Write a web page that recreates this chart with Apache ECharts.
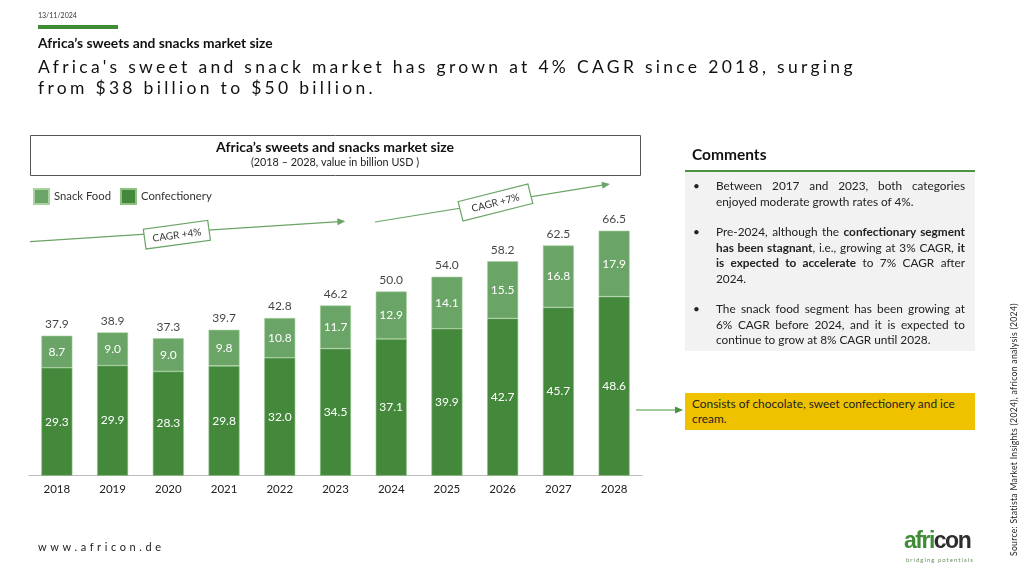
<!DOCTYPE html>
<html>
<head>
<meta charset="utf-8" />
<title>Africa sweets and snacks</title>
<script src="https://cdn.jsdelivr.net/npm/echarts@6/dist/echarts.min.js"></script>
<style>
  body { margin: 0; background: #fff; font-family: Lato, "Open Sans", sans-serif; color: #111; }
  #page { position: relative; width: 1024px; height: 577px; overflow: hidden; }
  #main { position: absolute; left: 0; top: 0; width: 1024px; height: 577px; }
  .abs { position: absolute; }
  #date { left: 38px; top: 11px; font-size: 7px; color: #333; }
  #bar { left: 38px; top: 25px; width: 80px; height: 4px; background: #3f8b36; }
  #kicker { left: 38px; top: 34px; font-size: 13.8px; font-weight: bold; color: #111; }
  #headline { left: 38px; top: 56px; font-size: 17.5px; letter-spacing: 3.3px; line-height: 21px; color: #111; }
  #comTitle { left: 692px; top: 145px; font-size: 15.5px; font-weight: bold; }
  #comBox { left: 685px; top: 170px; width: 290px; height: 181px; background: #f2f2f2; border-top: 2px solid #4a9440; box-sizing: border-box; }
  #comBox ul { margin: 0; padding: 6px 10px 0 31px; list-style: none; font-size: 11.8px; line-height: 15.5px; color: #222; }
  #comBox li { position: relative; text-align: justify; margin-bottom: 15px; }
  #comBox li::before { content: '•'; position: absolute; left: -23px; top: 0; }
  #yellow { left: 685px; top: 393px; width: 290px; height: 37px; background: #efc200; font-size: 11.9px; line-height: 15px; padding: 3px 7px; box-sizing: border-box; color: #222; }
  #web { left: 38px; top: 540px; font-size: 11px; letter-spacing: 3.6px; color: #222; }
  #logo { left: 904px; top: 528px; font-family: "Liberation Sans", Arial, sans-serif; font-weight: bold; font-size: 23px; letter-spacing: -1.5px; line-height: 24px; }
  #logo .g { color: #3f8b36; } #logo .d { color: #2d2d2d; }
  #tag { left: 906px; top: 556px; font-size: 6px; letter-spacing: 1px; color: #6b8f60; }
  #source { left: 1009px; top: 556px; transform-origin: 0 0; transform: rotate(-90deg); font-size: 8.6px; letter-spacing: 0.3px; color: #222; white-space: nowrap; }
</style>
</head>
<body>
<div id="page">
  <div id="main"></div>
  <div class="abs" id="date">13/11/2024</div>
  <div class="abs" id="bar"></div>
  <div class="abs" id="kicker">Africa’s sweets and snacks market size</div>
  <div class="abs" id="headline">Africa's sweet and snack market has grown at 4% CAGR since 2018, surging<br>from $38 billion to $50 billion.</div>

  <div class="abs" id="comTitle">Comments</div>
  <div class="abs" id="comBox">
    <ul>
      <li>Between 2017 and 2023, both categories enjoyed moderate growth rates of 4%.</li>
      <li>Pre-2024, although the <b>confectionary segment has been stagnant</b>, i.e., growing at 3% CAGR, <b>it is expected to accelerate</b> to 7% CAGR after 2024.</li>
      <li>The snack food segment has been growing at 6% CAGR before 2024, and it is expected to continue to grow at 8% CAGR until 2028.</li>
    </ul>
  </div>
  <div class="abs" id="yellow">Consists of chocolate, sweet confectionery and ice cream.</div>

  <div class="abs" id="web">www.africon.de</div>
  <div class="abs" id="logo"><span class="g">afri</span><span class="d">con</span></div>
  <div class="abs" id="tag">bridging potentials</div>
  <div class="abs" id="source">Source: Statista Market Insights (2024), africon analysis (2024)</div>
</div>

<script type="text/javascript">
  // data (billion USD)
  var years = ['2018', '2019', '2020', '2021', '2022', '2023', '2024', '2025', '2026', '2027', '2028'];
  var confectionery = [29.3, 29.9, 28.3, 29.8, 32.0, 34.5, 37.1, 39.9, 42.7, 45.7, 48.6];
  var snackFood = [8.7, 9.0, 9.0, 9.8, 10.8, 11.7, 12.9, 14.1, 15.5, 16.8, 17.9];
  var totals = [37.9, 38.9, 37.3, 39.7, 42.8, 46.2, 50.0, 54.0, 58.2, 62.5, 66.5];

  var darkGreen = '#44883c';
  var lightGreen = '#6aa466';
  var font = 'Lato';

  // CAGR arrow: start point, rotation (deg, anticlockwise), length,
  // label position along the arrow, label box size, extra tilt and drop of the box
  function cagrArrow(x, y, deg, len, labelAt, w, tilt, dy, text) {
    return {
      type: 'group',
      x: x, y: y,
      rotation: deg * Math.PI / 180,
      children: [
        { type: 'line', shape: { x1: 0, y1: 0, x2: len - 6, y2: 0 }, style: { stroke: lightGreen, lineWidth: 1.2 } },
        { type: 'polygon', shape: { points: [[len, 0], [len - 8, -3.5], [len - 8, 3.5]] }, style: { fill: lightGreen } },
        {
          type: 'group', x: labelAt, y: dy, rotation: tilt * Math.PI / 180,
          children: [
            { type: 'rect', x: -w / 2, y: -10, shape: { width: w, height: 20 },
              style: { fill: '#fff', stroke: lightGreen, lineWidth: 1.2 } },
            { type: 'text', x: 0, y: 0.5,
              style: { text: text, fontSize: 10, fontFamily: font, fill: '#333', align: 'center', verticalAlign: 'middle' } }
          ]
        }
      ]
    };
  }

  var myChart = echarts.init(document.getElementById('main'));

  myChart.setOption({
    animation: false,
    textStyle: { fontFamily: font },
    grid: { left: 29, right: 382, top: 217.8, bottom: 101.3 },
    legend: {
      left: 28, top: 183,
      itemWidth: 15, itemHeight: 15, itemGap: 9,
      icon: 'rect',
      data: ['Snack Food', 'Confectionery'],
      textStyle: { fontSize: 11.3, color: '#333', fontFamily: font }
    },
    xAxis: {
      type: 'category',
      data: years,
      axisTick: { show: false },
      axisLine: { lineStyle: { color: '#bdbdbd', width: 1 } },
      axisLabel: { fontSize: 11.5, color: '#222', margin: 8, fontFamily: font }
    },
    yAxis: {
      type: 'value',
      min: 0, max: 70,
      show: false,
      splitLine: { show: false }
    },
    series: [
      {
        name: 'Confectionery',
        type: 'bar',
        stack: 'market',
        barWidth: 31,
        data: confectionery,
        itemStyle: { color: darkGreen, borderColor: '#8fc185', borderWidth: 0.6 },
        label: { show: true, position: 'inside', color: '#fff', fontSize: 12, fontFamily: font,
                 formatter: function (p) { return p.value.toFixed(1); } }
      },
      {
        name: 'Snack Food',
        type: 'bar',
        stack: 'market',
        barWidth: 31,
        data: snackFood,
        itemStyle: { color: lightGreen, borderColor: '#a8d29f', borderWidth: 0.6 },
        label: { show: true, position: 'inside', color: '#fff', fontSize: 12, fontFamily: font,
                 formatter: function (p) { return p.value.toFixed(1); } }
      },
      {
        name: 'Total',
        type: 'scatter',
        data: totals,
        symbolSize: 1,
        itemStyle: { color: 'rgba(0,0,0,0)' },
        label: { show: true, position: 'top', distance: 5, color: '#111', fontSize: 12, fontFamily: font,
                 formatter: function (p) { return p.value.toFixed(1); } },
        z: 5
      }
    ],
    graphic: [
      // chart title box
      { type: 'rect', left: 30, top: 135, shape: { width: 610, height: 40 },
        style: { fill: '#fff', stroke: '#555', lineWidth: 1 } },
      { type: 'text', x: 335, y: 147.5,
        style: { text: 'Africa’s sweets and snacks market size', fontSize: 14, fontWeight: 'bold', fontFamily: font, fill: '#111', align: 'center', verticalAlign: 'middle' } },
      { type: 'text', x: 335, y: 163,
        style: { text: '(2018 – 2028, value in billion USD )', fontSize: 10.8, fontFamily: font, fill: '#222', align: 'center', verticalAlign: 'middle' } },
      cagrArrow(30, 241.7, 3.7, 316, 147, 65, 4, 2.5, 'CAGR +4%'),
      cagrArrow(375, 222, 9.2, 238, 122, 72, 5, 0, 'CAGR +7%'),
      // pointer to the yellow note
      { type: 'line', shape: { x1: 636, y1: 410, x2: 676, y2: 410 }, style: { stroke: '#4a9440', lineWidth: 1 } },
      { type: 'polygon', shape: { points: [[683, 410], [675, 406.5], [675, 413.5]] }, style: { fill: '#4a9440' } }
    ]
  });
</script>
</body>
</html>
